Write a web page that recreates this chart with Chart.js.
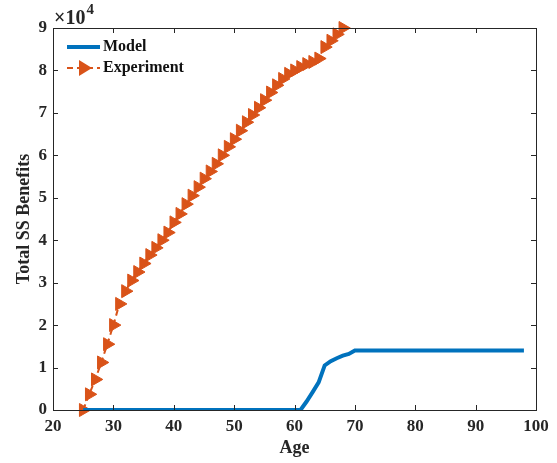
<!DOCTYPE html>
<html>
<head>
<meta charset="utf-8">
<script src="https://cdn.jsdelivr.net/npm/chart.js@4/dist/chart.umd.min.js"></script>
<style>
  html, body { margin: 0; background: #fff; }
  #wrap { width: 557px; height: 463px; position: relative; }
</style>
</head>
<body>
<div id="wrap"><canvas id="chart"></canvas></div>
<script>
// Model series (flat stretches only need their end points)
const modelAges   = [25, 61, 62, 63, 64, 65, 66, 67, 68, 69, 70, 98];
const modelValues = [0, 0, 2000, 4200, 6500, 10500, 11500, 12200, 12800, 13200, 14000, 14000];

// Experiment series, one point per year
const expAges = [25, 26, 27, 28, 29, 30, 31, 32, 33, 34, 35, 36, 37, 38, 39, 40, 41, 42, 43, 44, 45, 46,
                 47, 48, 49, 50, 51, 52, 53, 54, 55, 56, 57, 58, 59, 60, 61, 62, 63, 64, 65, 66, 67, 68];
const expValues = [0, 3700, 7200, 11200, 15500, 20000, 25000, 28000, 30500, 32500, 34500, 36500, 38200, 40000,
                   41800, 44200, 46200, 48500, 50500, 52500, 54500, 56200, 58000, 60000, 62000, 63800, 65800,
                   67800, 69500, 71200, 73000, 74800, 76500, 78000, 79200, 80000, 80800, 81500, 82000, 82800,
                   85500, 87000, 88500, 90000];

const xTicks = [20, 30, 40, 50, 60, 70, 80, 90, 100];
const yTicks = [0, 10000, 20000, 30000, 40000, 50000, 60000, 70000, 80000, 90000];
const seriesNames = ['Model', 'Experiment'];

const BLUE = '#0072BD';
const ORANGE = '#D95319';
const AXIS = '#262626';
const FONT = '"Liberation Serif", "Times New Roman", serif';

const toPts = (xs, ys) => xs.map((x, i) => ({ x, y: ys[i] }));

// box, inward ticks, exponent label and legend, MATLAB style
const matlabAxes = {
  id: 'matlabAxes',
  afterDraw(chart) {
    const { ctx, chartArea: a, scales: { x, y } } = chart;
    ctx.save();
    ctx.strokeStyle = AXIS;
    ctx.lineWidth = 1;
    ctx.strokeRect(Math.round(a.left) + 0.5, Math.round(a.top) + 0.5,
                   Math.round(a.right - a.left), Math.round(a.bottom - a.top));
    const tl = 5;
    ctx.beginPath();
    xTicks.forEach(v => {
      const px = Math.round(x.getPixelForValue(v)) + 0.5;
      ctx.moveTo(px, a.bottom); ctx.lineTo(px, a.bottom - tl);
      ctx.moveTo(px, a.top); ctx.lineTo(px, a.top + tl);
    });
    yTicks.forEach(v => {
      const py = Math.round(y.getPixelForValue(v)) + 0.5;
      ctx.moveTo(a.left, py); ctx.lineTo(a.left + tl, py);
      ctx.moveTo(a.right, py); ctx.lineTo(a.right - tl, py);
    });
    ctx.stroke();

    // x10^4 label
    ctx.fillStyle = AXIS;
    ctx.textBaseline = 'alphabetic';
    ctx.textAlign = 'left';
    ctx.font = 'bold 20px ' + FONT;
    ctx.fillText('\u00d710', a.left + 1, a.top - 4);
    const w = ctx.measureText('\u00d710').width;
    ctx.font = 'bold 15px ' + FONT;
    ctx.fillText('4', a.left + 2 + w, a.top - 14);

    // legend
    const lx = a.left + 14, ly1 = a.top + 19, ly2 = a.top + 40;
    ctx.lineWidth = 4;
    ctx.strokeStyle = BLUE;
    ctx.beginPath(); ctx.moveTo(lx, ly1); ctx.lineTo(lx + 33, ly1); ctx.stroke();
    ctx.lineWidth = 2;
    ctx.strokeStyle = ORANGE;
    ctx.setLineDash([6, 4]);
    ctx.beginPath(); ctx.moveTo(lx, ly2); ctx.lineTo(lx + 33, ly2); ctx.stroke();
    ctx.setLineDash([]);
    ctx.fillStyle = ORANGE;
    const mx = lx + 17;
    ctx.beginPath();
    ctx.moveTo(mx + 8, ly2); ctx.lineTo(mx - 5, ly2 - 8); ctx.lineTo(mx - 5, ly2 + 8);
    ctx.closePath(); ctx.fill();
    ctx.fillStyle = '#111';
    ctx.font = 'bold 16px ' + FONT;
    ctx.textBaseline = 'middle';
    ctx.fillText(seriesNames[0], lx + 36, ly1);
    ctx.fillText(seriesNames[1], lx + 36, ly2);
    ctx.restore();
  }
};

new Chart(document.getElementById('chart'), {
  type: 'line',
  data: {
    datasets: [
      {
        label: seriesNames[0],
        data: toPts(modelAges, modelValues),
        borderColor: BLUE,
        borderWidth: 4,
        pointRadius: 0,
        fill: false
      },
      {
        label: seriesNames[1],
        data: toPts(expAges, expValues),
        borderColor: ORANGE,
        backgroundColor: ORANGE,
        borderWidth: 2,
        borderDash: [6, 4],
        pointStyle: 'triangle',
        rotation: 90,
        pointRadius: 7.5,
        pointBorderWidth: 1,
        pointBackgroundColor: ORANGE,
        pointBorderColor: ORANGE,
        clip: false,
        fill: false
      }
    ]
  },
  options: {
    responsive: true,
    maintainAspectRatio: false,
    animation: false,
    events: [],
    layout: { padding: { top: 28, right: 21, left: 10, bottom: 0 } },
    plugins: { legend: { display: false }, tooltip: { enabled: false } },
    scales: {
      x: {
        type: 'linear',
        min: 20, max: 100,
        afterBuildTicks: s => { s.ticks = xTicks.map(v => ({ value: v })); },
        afterFit: s => { s.height = 53; },
        grid: { display: false, drawTicks: false },
        border: { display: false },
        ticks: { color: AXIS, font: { family: FONT, size: 17, weight: 'bold' }, padding: 6 },
        title: { display: true, text: 'Age', color: AXIS, padding: { top: 5 },
                 font: { family: FONT, size: 18, weight: 'bold' } }
      },
      y: {
        min: 0, max: 90000,
        afterBuildTicks: s => { s.ticks = yTicks.map(v => ({ value: v })); },
        afterFit: s => { s.width = 43; },
        grid: { display: false, drawTicks: false },
        border: { display: false },
        ticks: { color: AXIS, font: { family: FONT, size: 17, weight: 'bold' }, padding: 6,
                 callback: v => v / 10000 },
        title: { display: true, text: 'Total SS Benefits', color: AXIS, padding: { bottom: 2 },
                 font: { family: FONT, size: 18, weight: 'bold' } }
      }
    }
  },
  plugins: [matlabAxes]
});
</script>
</body>
</html>
